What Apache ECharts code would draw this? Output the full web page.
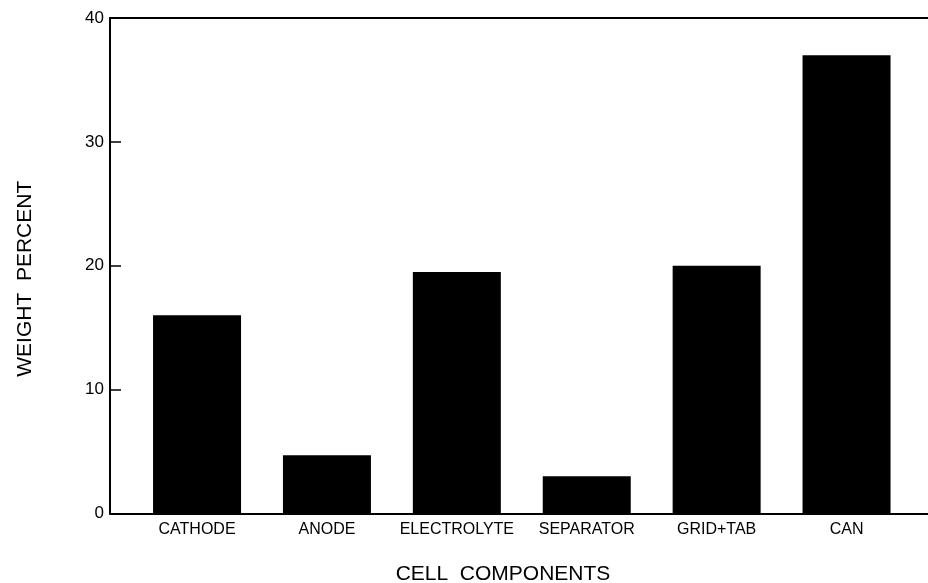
<!DOCTYPE html>
<html>
<head>
<meta charset="utf-8">
<script src="https://cdn.jsdelivr.net/npm/echarts@6/dist/echarts.min.js"></script>
<style>
  html, body { margin: 0; padding: 0; background: #fff; }
  #chart { width: 928px; height: 583px; }
</style>
</head>
<body>
<div id="chart"></div>
<script>
// Cell component weight breakdown
const categories = ['CATHODE', 'ANODE', 'ELECTROLYTE', 'SEPARATOR', 'GRID+TAB', 'CAN'];
const weightPercent = [16.0, 4.7, 19.5, 3.0, 20.0, 37.0];
const yTicks = [0, 10, 20, 30, 40];

const FONT = '"Liberation Sans", Arial, sans-serif';
const INK = '#000';

const chart = echarts.init(document.getElementById('chart'), null, { renderer: 'canvas' });

const barData = weightPercent.map((v, i) => [i, v]);
const catPositions = categories.map((_, i) => i);

chart.setOption({
  backgroundColor: '#fff',
  animation: false,
  grid: { left: 110, right: 0, top: 18, bottom: 69.5, containLabel: false, outerBoundsMode: 'none' },
  xAxis: [
    {
      type: 'value',
      position: 'bottom',
      min: -0.67,
      max: 5.627,
      name: 'CELL  COMPONENTS',
      nameLocation: 'middle',
      nameGap: 50,
      nameTextStyle: { fontFamily: FONT, fontSize: 21, color: INK, padding: [0, 32, 0, 0] },
      axisLine: { show: true, onZero: false, lineStyle: { color: INK, width: 2 } },
      axisTick: { show: false },
      splitLine: { show: false },
      axisLabel: {
        customValues: catPositions,
        formatter: v => categories[Math.round(v)] || '',
        fontFamily: FONT, fontSize: 16, color: INK, margin: 8
      }
    },
    {
      type: 'value',
      position: 'top',
      min: -0.67,
      max: 5.627,
      axisLine: { show: true, onZero: false, lineStyle: { color: INK, width: 2 } },
      axisTick: { show: false },
      axisLabel: { show: false },
      splitLine: { show: false }
    }
  ],
  yAxis: {
    type: 'value',
    min: yTicks[0],
    max: yTicks[yTicks.length - 1],
    interval: 10,
    name: 'WEIGHT  PERCENT',
    nameLocation: 'middle',
    nameGap: 74,
    nameRotate: 90,
    nameTextStyle: { fontFamily: FONT, fontSize: 21, color: INK, padding: [0, 26, 0, 0] },
    axisLine: { show: true, onZero: false, lineStyle: { color: INK, width: 2 } },
    axisTick: { show: true, inside: true, length: 11, lineStyle: { color: INK, width: 1.5 } },
    splitLine: { show: false },
    axisLabel: { fontFamily: FONT, fontSize: 17, color: INK, margin: 6 }
  },
  series: [{
    type: 'bar',
    xAxisIndex: 0,
    data: barData,
    barWidth: 88,
    itemStyle: { color: INK },
    silent: true
  }]
});
</script>
</body>
</html>
